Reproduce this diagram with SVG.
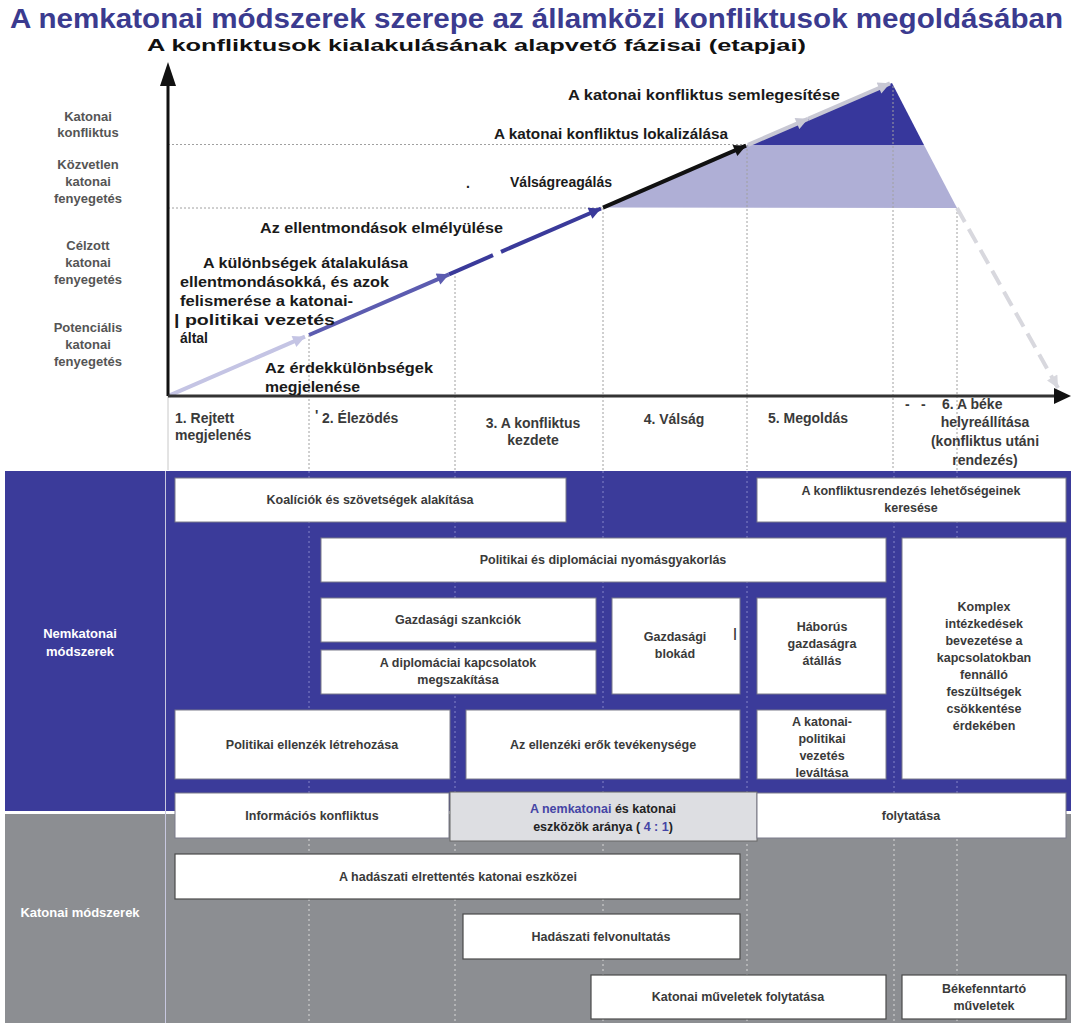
<svg xmlns="http://www.w3.org/2000/svg" width="1071" height="1023" viewBox="0 0 1071 1023">
<defs>
<style>
text{font-family:"Liberation Sans",Arial,sans-serif;font-weight:bold;}
.title{font-size:27px;fill:#3b3b8f;}
.sub{font-size:16.5px;fill:#111;}
.ylab{font-size:13px;fill:#555;text-anchor:middle;}
.clab{font-size:14px;fill:#1a1a1a;}
.ph{font-size:14px;fill:#3a3a3a;}
.bx{fill:#fff;stroke:#7a7a8a;stroke-width:1;}
.bxg{fill:#fff;stroke:#4a4a4a;stroke-width:1.2;}
.bt{font-size:12.5px;fill:#3a3a3a;text-anchor:middle;}
.side{font-size:13px;fill:#fff;text-anchor:middle;}
.dot{stroke:#a0a0a0;stroke-width:1;stroke-dasharray:2 2;fill:none;}
.dotb{stroke:#8585c8;stroke-width:1;stroke-dasharray:2 3;fill:none;}
.dotg{stroke:#d8d8d8;stroke-width:1;stroke-dasharray:2 3;fill:none;}
.seg{stroke-width:4;fill:none;stroke-linecap:butt;}
</style>
<marker id="ahL" viewBox="0 0 10 10" refX="10" refY="5" markerWidth="3.4" markerHeight="3" orient="auto"><path d="M0,0 L10,5 L0,10 z" fill="#c4c4e4"/></marker>
<marker id="ahP" viewBox="0 0 10 10" refX="10" refY="5" markerWidth="3.4" markerHeight="3" orient="auto"><path d="M0,0 L10,5 L0,10 z" fill="#5c5cb0"/></marker>
<marker id="ahD" viewBox="0 0 10 10" refX="10" refY="5" markerWidth="3.4" markerHeight="3" orient="auto"><path d="M0,0 L10,5 L0,10 z" fill="#3a3a9a"/></marker>
<marker id="ahK" viewBox="0 0 10 10" refX="10" refY="5" markerWidth="3.4" markerHeight="3" orient="auto"><path d="M0,0 L10,5 L0,10 z" fill="#111"/></marker>
<marker id="ahG" viewBox="0 0 10 10" refX="10" refY="5" markerWidth="3.4" markerHeight="3" orient="auto"><path d="M0,0 L10,5 L0,10 z" fill="#c8c8d4"/></marker>
<marker id="ahW" viewBox="0 0 10 10" refX="10" refY="5" markerWidth="3.4" markerHeight="3" orient="auto"><path d="M0,0 L10,5 L0,10 z" fill="#d8d8de"/></marker>
</defs>
<rect width="1071" height="1023" fill="#fff"/>

<g id="title">
<text class="title" x="10" y="28" textLength="1053" lengthAdjust="spacingAndGlyphs">A nemkatonai módszerek szerepe az államközi konfliktusok megoldásában</text>
<text class="sub" x="147" y="51" textLength="659" lengthAdjust="spacingAndGlyphs">A konfliktusok  kialakulásának alapvető fázisai (etapjai)</text>
</g>

<g id="chart-areas">
<polygon points="603,207.6 747,145 924,145 957,208" fill="#afafd6"/>
<polygon points="747,145 892,83 924,145" fill="#37379c"/>
</g>

<g id="gridlines">
<line class="dot" x1="168" y1="144.5" x2="747" y2="144.5"/>
<line class="dot" x1="168" y1="208" x2="603" y2="208"/>
<line class="dot" x1="309" y1="335" x2="309" y2="470"/>
<line class="dot" x1="455" y1="272" x2="455" y2="470"/>
<line class="dot" x1="603" y1="208" x2="603" y2="470"/>
<line class="dot" x1="747" y1="145" x2="747" y2="470"/>
<line class="dot" x1="893" y1="86" x2="893" y2="470"/>
<line class="dot" x1="957" y1="208" x2="957" y2="470"/>
<line x1="168" y1="396" x2="168" y2="470" stroke="#c8c8c8" stroke-width="1"/>
</g>

<g id="y-labels">
<text class="ylab" x="88" y="121">Katonai</text>
<text class="ylab" x="88" y="137">konfliktus</text>
<text class="ylab" x="88" y="169">Közvetlen</text>
<text class="ylab" x="88" y="186">katonai</text>
<text class="ylab" x="88" y="203">fenyegetés</text>
<text class="ylab" x="88" y="250">Célzott</text>
<text class="ylab" x="88" y="267">katonai</text>
<text class="ylab" x="88" y="284">fenyegetés</text>
<text class="ylab" x="88" y="332">Potenciális</text>
<text class="ylab" x="88" y="349">katonai</text>
<text class="ylab" x="88" y="366">fenyegetés</text>
</g>

<g id="connectors">
<line class="seg" stroke="#c4c4e4" x1="169" y1="395.6" x2="305" y2="336.7" marker-end="url(#ahL)"/>
<line class="seg" stroke="#5c5cb0" x1="309" y1="335" x2="449" y2="274.3" marker-end="url(#ahP)"/>
<line class="seg" stroke="#3a3a9a" x1="449" y1="274.3" x2="493" y2="255.2"/>
<line class="seg" stroke="#3a3a9a" x1="501" y1="251.8" x2="601" y2="208.5" marker-end="url(#ahD)"/>
<line class="seg" stroke="#111" x1="603" y1="207.6" x2="746" y2="145.7" marker-end="url(#ahK)"/>
<line class="seg" stroke="#c8c8d4" x1="748" y1="144.8" x2="808" y2="118.8" marker-end="url(#ahG)"/>
<line class="seg" stroke="#c8c8d4" x1="808" y1="118.8" x2="890" y2="83.3" marker-end="url(#ahG)"/>
<line class="seg" stroke="#d8d8de" stroke-dasharray="16 8" x1="957" y1="208" x2="1058" y2="388" marker-end="url(#ahW)"/>
<line x1="168" y1="396" x2="168" y2="82" stroke="#111" stroke-width="3"/>
<polygon points="168,62 160,86 176,86" fill="#111"/>
<line x1="168" y1="396" x2="1056" y2="396" stroke="#333" stroke-width="3"/>
<polygon points="1071,396 1054,388 1054,404" fill="#111"/>
</g>

<g id="chart-labels">
<text class="clab" x="568" y="100" textLength="272" lengthAdjust="spacingAndGlyphs">A katonai konfliktus semlegesítése</text>
<text class="clab" x="494" y="139" textLength="234" lengthAdjust="spacingAndGlyphs">A katonai konfliktus lokalizálása</text>
<text class="clab" x="466" y="188">.</text>
<text class="clab" x="510" y="187" textLength="102" lengthAdjust="spacingAndGlyphs">Válságreagálás</text>
<text class="clab" x="260" y="233" textLength="243" lengthAdjust="spacingAndGlyphs">Az ellentmondások elmélyülése</text>
<text class="clab" x="203" y="268" textLength="205" lengthAdjust="spacingAndGlyphs">A különbségek átalakulása</text>
<text class="clab" x="180" y="287" textLength="209" lengthAdjust="spacingAndGlyphs">ellentmondásokká, és azok</text>
<text class="clab" x="180" y="306" textLength="173" lengthAdjust="spacingAndGlyphs">felismerése a katonai-</text>
<text class="clab" x="174" y="325" textLength="161" lengthAdjust="spacingAndGlyphs">| politikai vezetés</text>
<text class="clab" x="180" y="343">által</text>
<text class="clab" x="265" y="373" textLength="168" lengthAdjust="spacingAndGlyphs">Az érdekkülönbségek</text>
<text class="clab" x="265" y="392" textLength="95" lengthAdjust="spacingAndGlyphs">megjelenése</text>
</g>

<g id="phases">
<text class="ph" x="175" y="423">1. Rejtett</text>
<text class="ph" x="175" y="440">megjelenés</text>
<text class="ph" x="315" y="420" font-size="10">'</text>
<text class="ph" x="322" y="423">2. Élezödés</text>
<text class="ph" x="533" y="428" text-anchor="middle">3. A konfliktus</text>
<text class="ph" x="533" y="445" text-anchor="middle">kezdete</text>
<text class="ph" x="674" y="424" text-anchor="middle">4. Válság</text>
<text class="ph" x="768" y="423">5. Megoldás</text>
<text class="ph" x="905" y="409">-</text>
<text class="ph" x="921" y="409">-</text>
<text class="ph" x="942" y="409">6. A béke</text>
<text class="ph" x="985" y="427" text-anchor="middle">helyreállítása</text>
<text class="ph" x="985" y="446" text-anchor="middle">(konfliktus utáni</text>
<text class="ph" x="985" y="465" text-anchor="middle">rendezés)</text>
</g>

<g id="bands">
<rect x="5" y="471" width="1066" height="340" fill="#3b3b9a"/>
<rect x="5" y="811" width="1066" height="3" fill="#fff"/>
<rect x="5" y="814" width="1066" height="209" fill="#8c8e92"/>
<line x1="165.5" y1="471" x2="165.5" y2="1023" stroke="#c8c8e0" stroke-width="1"/>
<line class="dotb" x1="309" y1="471" x2="309" y2="811"/>
<line class="dotb" x1="455" y1="471" x2="455" y2="811"/>
<line class="dotb" x1="603" y1="471" x2="603" y2="811"/>
<line class="dotb" x1="747" y1="471" x2="747" y2="811"/>
<line class="dotb" x1="894" y1="471" x2="894" y2="811"/>
<line class="dotb" x1="957" y1="471" x2="957" y2="811"/>
<line class="dotg" x1="309" y1="814" x2="309" y2="1023"/>
<line class="dotg" x1="455" y1="814" x2="455" y2="1023"/>
<line class="dotg" x1="603" y1="814" x2="603" y2="1023"/>
<line class="dotg" x1="747" y1="814" x2="747" y2="1023"/>
<line class="dotg" x1="894" y1="814" x2="894" y2="1023"/>
<line class="dotg" x1="957" y1="814" x2="957" y2="1023"/>
<text class="side" x="80" y="638">Nemkatonai</text>
<text class="side" x="80" y="656">módszerek</text>
<text class="side" x="80" y="917" font-size="12.5">Katonai módszerek</text>
</g>

<g id="n-koaliciok"><rect class="bx" x="175" y="478" width="391" height="44"/><text class="bt" x="370" y="504">Koalíciók és szövetségek alakítása</text></g>
<g id="n-rendezes"><rect class="bx" x="757" y="478" width="309" height="44"/><text class="bt" x="911" y="495">A konfliktusrendezés lehetőségeinek</text><text class="bt" x="911" y="512">keresése</text></g>
<g id="n-nyomas"><rect class="bx" x="321" y="538" width="565" height="44"/><text class="bt" x="603" y="564">Politikai és diplomáciai nyomásgyakorlás</text></g>
<g id="n-komplex"><rect class="bx" x="902" y="538" width="164" height="241"/>
<text class="bt" x="984" y="611">Komplex</text>
<text class="bt" x="984" y="628">intézkedések</text>
<text class="bt" x="984" y="645">bevezetése a</text>
<text class="bt" x="984" y="662">kapcsolatokban</text>
<text class="bt" x="984" y="679">fennálló</text>
<text class="bt" x="984" y="696">feszültségek</text>
<text class="bt" x="984" y="713">csökkentése</text>
<text class="bt" x="984" y="730">érdekében</text></g>
<g id="n-szankciok"><rect class="bx" x="321" y="598" width="275" height="44"/><text class="bt" x="458" y="624">Gazdasági szankciók</text></g>
<g id="n-diplomaciai"><rect class="bx" x="321" y="650" width="275" height="44"/><text class="bt" x="458" y="667">A diplomáciai kapcsolatok</text><text class="bt" x="458" y="684">megszakítása</text></g>
<g id="n-blokad"><rect class="bx" x="612" y="598" width="128" height="96"/><text class="bt" x="675" y="641">Gazdasági</text><text class="bt" x="675" y="658">blokád</text><text class="bt" x="735" y="637">|</text></g>
<g id="n-haborus"><rect class="bx" x="757" y="598" width="129" height="96"/><text class="bt" x="822" y="631">Háborús</text><text class="bt" x="822" y="648">gazdaságra</text><text class="bt" x="822" y="665">átállás</text></g>
<g id="n-ellenzek"><rect class="bx" x="175" y="710" width="275" height="69"/><text class="bt" x="312" y="749">Politikai ellenzék létrehozása</text></g>
<g id="n-ellenzeki"><rect class="bx" x="466" y="710" width="274" height="69"/><text class="bt" x="603" y="749">Az ellenzéki erők tevékenysége</text></g>
<g id="n-levaltas"><rect class="bx" x="757" y="710" width="129" height="69"/><text class="bt" x="822" y="726">A katonai-</text><text class="bt" x="822" y="743">politikai</text><text class="bt" x="822" y="760">vezetés</text><text class="bt" x="822" y="777">leváltása</text></g>

<g id="n-informacios"><rect class="bx" x="175" y="793" width="274" height="45"/><text class="bt" x="312" y="820">Információs konfliktus</text></g>
<g id="n-arany"><rect x="450" y="792" width="307" height="49" fill="#dddee2" stroke="#666" stroke-width="1"/>
<text class="bt" x="603" y="813"><tspan fill="#4545a5">A nemkatonai</tspan> <tspan fill="#222">és katonai</tspan></text>
<text class="bt" x="603" y="831"><tspan fill="#222">eszközök aránya (</tspan><tspan fill="#4545a5"> 4 : 1</tspan><tspan fill="#222">)</tspan></text></g>
<g id="n-folytatasa"><rect class="bx" x="757" y="793" width="309" height="45"/><text class="bt" x="911" y="820">folytatása</text></g>

<g id="n-elrettentes"><rect class="bxg" x="175" y="854" width="565" height="45"/><text class="bt" x="458" y="881">A hadászati elrettentés katonai eszközei</text></g>
<g id="n-felvonultatas"><rect class="bxg" x="463" y="914" width="277" height="45"/><text class="bt" x="601" y="941">Hadászati felvonultatás</text></g>
<g id="n-muveletek"><rect class="bxg" x="591" y="975" width="295" height="44"/><text class="bt" x="738" y="1001">Katonai műveletek folytatása</text></g>
<g id="n-bekefenntarto"><rect class="bxg" x="902" y="975" width="164" height="44"/><text class="bt" x="984" y="993">Békefenntartó</text><text class="bt" x="984" y="1010">műveletek</text></g>
</svg>
